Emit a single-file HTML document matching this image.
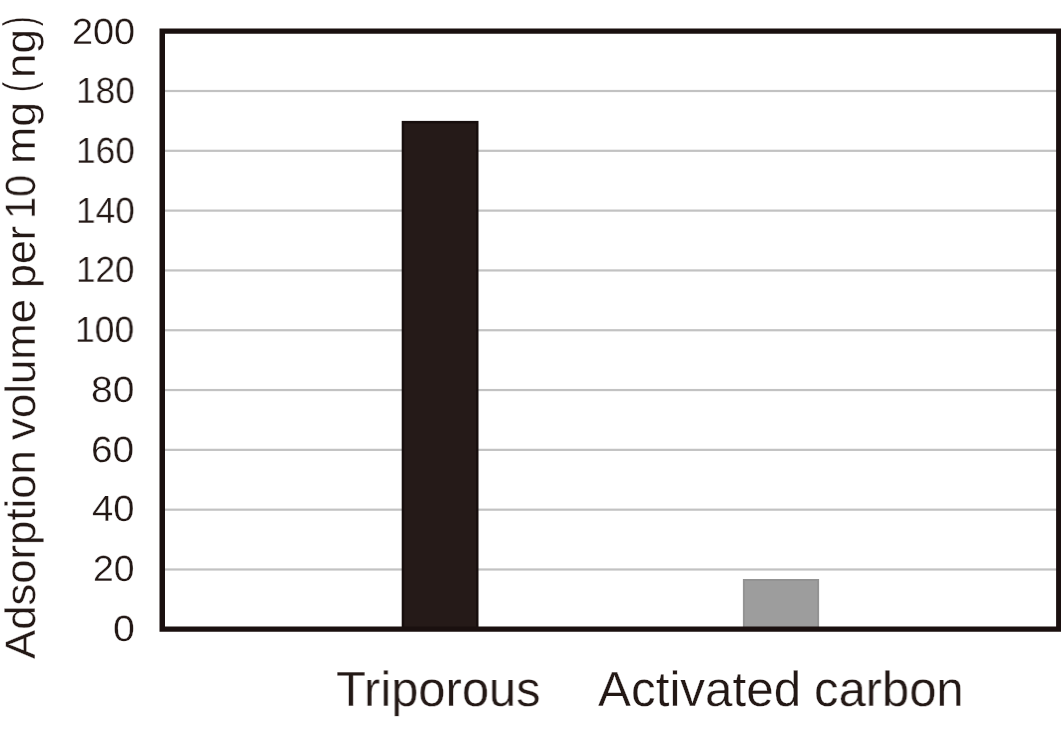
<!DOCTYPE html>
<html><head><meta charset="utf-8"><title>Adsorption volume chart</title>
<style>
html,body{margin:0;padding:0;background:#fff;}
body{width:1064px;height:736px;position:relative;overflow:hidden;font-family:"Liberation Sans",sans-serif;color:#231815;}
.abs{position:absolute;}
.tx{position:absolute;white-space:nowrap;text-rendering:geometricPrecision;line-height:60px;height:60px;transform-origin:0 0;will-change:transform;-webkit-text-stroke:0.60px #fff;paint-order:fill stroke;}
</style></head><body>
<svg class="abs" style="left:0;top:0" width="1064" height="736" viewBox="0 0 1064 736">
<rect x="163" y="89.90" width="895" height="2.2" fill="#c2c2c2"/>
<rect x="163" y="149.71" width="895" height="2.2" fill="#c2c2c2"/>
<rect x="163" y="209.52" width="895" height="2.2" fill="#c2c2c2"/>
<rect x="163" y="269.33" width="895" height="2.2" fill="#c2c2c2"/>
<rect x="163" y="329.14" width="895" height="2.2" fill="#c2c2c2"/>
<rect x="163" y="388.95" width="895" height="2.2" fill="#c2c2c2"/>
<rect x="163" y="448.76" width="895" height="2.2" fill="#c2c2c2"/>
<rect x="163" y="508.57" width="895" height="2.2" fill="#c2c2c2"/>
<rect x="163" y="568.38" width="895" height="2.2" fill="#c2c2c2"/>
<rect x="401.7" y="120.9" width="76.8" height="508" fill="#170e0d"/>
<rect x="404.2" y="123.4" width="71.8" height="505" fill="#251a18"/>
<rect x="742.9" y="579.0" width="76.2" height="50" fill="#939393"/>
<rect x="744.9" y="581.0" width="72.2" height="48" fill="#9d9d9d"/>
<path fill-rule="evenodd" fill="#1a100f" d="M159.5 28.4H1061V631.8H159.5Z M165 33.75V626.6H1056.1V33.75Z"/>
</svg>
<div class="tx" style="font-size:36.40px;-webkit-text-stroke-width:0.30px;left:72.10px;top:1.79px;transform:scaleX(1.0401)">200</div>
<div class="tx" style="font-size:36.40px;-webkit-text-stroke-width:0.30px;left:75.85px;top:61.46px;transform:scaleX(0.9687)">180</div>
<div class="tx" style="font-size:36.40px;-webkit-text-stroke-width:0.30px;left:75.85px;top:121.14px;transform:scaleX(0.9687)">160</div>
<div class="tx" style="font-size:36.40px;-webkit-text-stroke-width:0.30px;left:75.97px;top:180.81px;transform:scaleX(0.9683)">140</div>
<div class="tx" style="font-size:36.40px;-webkit-text-stroke-width:0.30px;left:75.65px;top:240.49px;transform:scaleX(0.9616)">120</div>
<div class="tx" style="font-size:36.40px;-webkit-text-stroke-width:0.30px;left:75.05px;top:300.16px;transform:scaleX(0.9741)">100</div>
<div class="tx" style="font-size:36.40px;-webkit-text-stroke-width:0.30px;left:91.39px;top:359.84px;transform:scaleX(1.0722)">80</div>
<div class="tx" style="font-size:36.40px;-webkit-text-stroke-width:0.30px;left:91.28px;top:419.51px;transform:scaleX(1.0680)">60</div>
<div class="tx" style="font-size:36.40px;-webkit-text-stroke-width:0.30px;left:92.30px;top:479.19px;transform:scaleX(1.0500)">40</div>
<div class="tx" style="font-size:36.40px;-webkit-text-stroke-width:0.30px;left:93.01px;top:538.86px;transform:scaleX(1.0269)">20</div>
<div class="tx" style="font-size:36.40px;-webkit-text-stroke-width:0.30px;left:112.78px;top:598.54px;transform:scaleX(1.0815)">0</div>
<div class="tx" style="font-size:49.30px;-webkit-text-stroke-width:0.30px;left:335.77px;top:659.72px;transform:scaleX(0.9910)">Triporous</div>
<div class="tx" style="font-size:49.30px;-webkit-text-stroke-width:0.30px;left:597.76px;top:659.72px;transform:scaleX(1.0022)">Activated</div>
<div class="tx" style="font-size:49.30px;-webkit-text-stroke-width:0.30px;left:813.60px;top:659.72px;transform:scaleX(0.9926)">carbon</div>
<div class="tx" style="font-size:42.40px;-webkit-text-stroke-width:0.30px;left:-9.49px;top:659.38px;transform:rotate(-90deg) scaleX(1.0302)">Adsorption</div>
<div class="tx" style="font-size:42.40px;-webkit-text-stroke-width:0.30px;left:-9.49px;top:440.19px;transform:rotate(-90deg) scaleX(1.0312)">volume</div>
<div class="tx" style="font-size:42.40px;-webkit-text-stroke-width:0.30px;left:-9.49px;top:287.81px;transform:rotate(-90deg) scaleX(1.0138)">per</div>
<div class="tx" style="font-size:42.40px;-webkit-text-stroke-width:0.30px;left:-9.49px;top:218.50px;transform:rotate(-90deg) scaleX(0.9380)">10</div>
<div class="tx" style="font-size:42.40px;-webkit-text-stroke-width:0.30px;left:-9.49px;top:163.93px;transform:rotate(-90deg) scaleX(1.0523)">mg</div>
<div class="tx" style="font-size:44.00px;-webkit-text-stroke-width:0.30px;left:-10.25px;top:91.68px;transform:rotate(-90deg) scaleX(0.6856)">(</div>
<div class="tx" style="font-size:42.40px;-webkit-text-stroke-width:0.30px;left:-9.49px;top:77.80px;transform:rotate(-90deg) scaleX(1.0370)">ng</div>
<div class="tx" style="font-size:44.00px;-webkit-text-stroke-width:0.30px;left:-10.25px;top:26.48px;transform:rotate(-90deg) scaleX(0.6354)">)</div>
</body></html>
